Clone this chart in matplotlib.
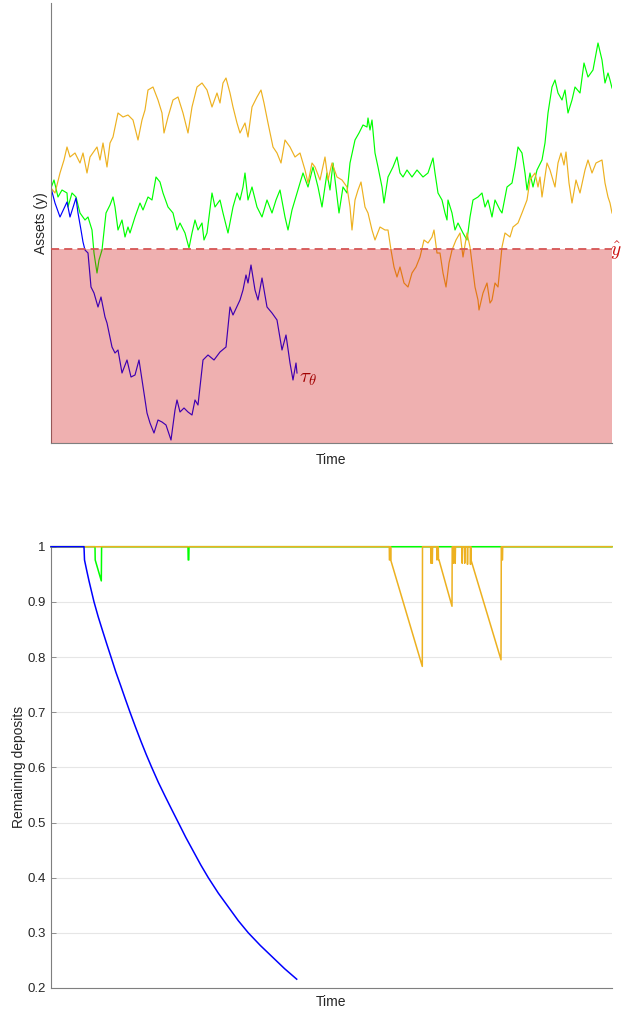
import matplotlib
matplotlib.use('Agg')
import matplotlib.pyplot as plt
import numpy as np

plt.rcParams['font.family'] = ['Liberation Sans', 'DejaVu Sans']
plt.rcParams['mathtext.fontset'] = 'cm'

# colours (MATLAB-like)
c_blue = '#0000ff'
c_green = '#00ff00'
c_orange = '#edb120'

# ---------------- asset paths (time, assets) ----------------
y_hat = 1.94
t_end = 561

blue_path = [(0, 2.55), (4, 2.40), (9, 2.26), (16, 2.41), (19, 2.26), (25, 2.45), (27, 2.30), (30, 2.13),
             (32, 2.01), (34, 1.93), (37, 1.90), (40, 1.56), (43, 1.50), (47, 1.36), (50, 1.46), (54, 1.26),
             (56, 1.20), (61, 0.96), (64, 0.90), (67, 0.93), (71, 0.70), (76, 0.83), (80, 0.66), (84, 0.68),
             (88, 0.83), (93, 0.50), (96, 0.30), (99, 0.20), (103, 0.10), (107, 0.23), (111, 0.21), (115, 0.18),
             (120, 0.03), (124, 0.33), (126, 0.43), (129, 0.31), (133, 0.35), (137, 0.31), (141, 0.28), (144, 0.43),
             (147, 0.38), (152, 0.83), (157, 0.88), (163, 0.83), (169, 0.91), (175, 0.96), (179, 1.36), (182, 1.28),
             (189, 1.43), (192, 1.53), (195, 1.68), (197, 1.60), (200, 1.78), (204, 1.53), (207, 1.43), (211, 1.65),
             (216, 1.36), (221, 1.30), (226, 1.23), (231, 0.93), (235, 1.08), (239, 0.80), (242, 0.63), (245, 0.80),
             (246, 0.70)]

green_path = [(0, 2.55), (3, 2.63), (7, 2.46), (11, 2.53), (16, 2.50), (17, 2.36), (21, 2.50), (25, 2.46),
              (29, 2.30), (34, 2.23), (37, 2.26), (41, 2.13), (43, 1.90), (46, 1.70), (48, 1.83), (51, 1.93),
              (55, 2.30), (59, 2.38), (62, 2.46), (64, 2.36), (67, 2.13), (71, 2.23), (74, 2.06), (77, 2.16),
              (79, 2.10), (84, 2.26), (89, 2.40), (92, 2.33), (97, 2.46), (101, 2.43), (105, 2.66), (109, 2.61),
              (112, 2.50), (117, 2.36), (122, 2.30), (126, 2.13), (129, 2.20), (134, 2.10), (138, 1.95), (141, 2.10),
              (144, 2.23), (147, 2.13), (151, 2.20), (153, 2.03), (156, 2.10), (161, 2.50), (164, 2.36), (169, 2.43),
              (172, 2.30), (177, 2.10), (182, 2.36), (186, 2.50), (189, 2.43), (192, 2.56), (194, 2.70), (197, 2.43),
              (201, 2.56), (206, 2.36), (211, 2.26), (216, 2.43), (221, 2.30), (225, 2.43), (229, 2.53), (234, 2.26),
              (237, 2.13), (241, 2.33), (246, 2.50), (249, 2.60), (252, 2.70), (257, 2.56), (262, 2.76), (267, 2.56),
              (271, 2.36), (276, 2.70), (279, 2.53), (282, 2.80), (288, 2.30), (292, 2.56), (296, 2.50), (299, 2.80),
              (304, 3.03), (308, 3.10), (312, 3.18), (316, 3.16), (317, 3.25), (319, 3.13), (321, 3.23), (324, 2.90),
              (327, 2.76), (331, 2.56), (333, 2.40), (337, 2.66), (342, 2.76), (346, 2.86), (349, 2.70), (352, 2.66),
              (356, 2.73), (361, 2.66), (366, 2.73), (372, 2.66), (377, 2.70), (382, 2.85), (384, 2.70), (387, 2.50),
              (391, 2.43), (394, 2.30), (396, 2.23), (397, 2.43), (401, 2.30), (404, 2.13), (407, 2.20), (412, 2.10),
              (416, 2.03), (419, 2.26), (422, 2.43), (427, 2.46), (431, 2.50), (434, 2.36), (437, 2.43), (441, 2.26),
              (444, 2.43), (449, 2.33), (451, 2.30), (456, 2.56), (461, 2.60), (464, 2.76), (467, 2.96), (471, 2.90),
              (474, 2.70), (476, 2.53), (479, 2.70), (482, 2.56), (486, 2.73), (491, 2.83), (494, 3.00), (497, 3.30),
              (501, 3.56), (504, 3.63), (507, 3.50), (511, 3.43), (514, 3.53), (517, 3.30), (521, 3.43), (524, 3.56),
              (529, 3.50), (533, 3.80), (537, 3.66), (542, 3.73), (547, 4.00), (551, 3.83), (554, 3.60), (557, 3.70),
              (559, 3.63), (561, 3.55)]

orange_path = [(0, 2.55), (4, 2.50), (9, 2.70), (13, 2.83), (16, 2.96), (19, 2.86), (24, 2.90), (29, 2.80),
               (32, 2.90), (36, 2.70), (39, 2.86), (46, 2.96), (49, 2.83), (52, 3.00), (56, 2.76), (59, 3.00),
               (62, 3.06), (67, 3.30), (72, 3.26), (77, 3.28), (82, 3.23), (87, 3.03), (91, 3.23), (94, 3.33),
               (97, 3.53), (102, 3.56), (107, 3.43), (111, 3.30), (113, 3.10), (117, 3.26), (122, 3.43), (127, 3.46),
               (132, 3.30), (137, 3.10), (141, 3.36), (146, 3.56), (151, 3.60), (156, 3.53), (161, 3.36), (166, 3.50),
               (169, 3.40), (172, 3.60), (175, 3.65), (179, 3.50), (182, 3.36), (186, 3.20), (189, 3.10), (194, 3.20),
               (197, 3.06), (201, 3.36), (206, 3.46), (210, 3.53), (213, 3.40), (217, 3.20), (222, 2.96), (226, 2.90),
               (230, 2.80), (234, 3.03), (239, 2.96), (244, 2.86), (249, 2.90), (254, 2.73), (257, 2.60), (261, 2.80),
               (264, 2.76), (269, 2.63), (274, 2.86), (277, 2.63), (281, 2.80), (286, 2.66), (291, 2.63), (296, 2.56),
               (299, 2.36), (301, 2.13), (304, 2.43), (307, 2.53), (310, 2.61), (314, 2.36), (317, 2.30), (321, 2.13),
               (324, 2.03), (329, 2.16), (334, 2.13), (337, 2.13), (340, 1.93), (343, 1.76), (346, 1.66), (349, 1.76),
               (353, 1.60), (357, 1.56), (361, 1.70), (365, 1.76), (369, 1.86), (373, 2.03), (377, 2.00), (381, 2.06),
               (383, 2.13), (386, 1.90), (389, 1.90), (392, 1.70), (395, 1.56), (398, 1.80), (401, 1.93), (405, 2.03),
               (409, 2.10), (412, 1.86), (416, 2.10), (419, 1.96), (424, 1.56), (427, 1.43), (428, 1.33), (432, 1.50),
               (436, 1.60), (439, 1.40), (441, 1.43), (444, 1.60), (447, 1.56), (451, 1.96), (454, 2.10), (459, 2.06),
               (462, 2.16), (467, 2.20), (471, 2.30), (476, 2.43), (479, 2.63), (481, 2.66), (484, 2.70), (487, 2.56),
               (489, 2.66), (491, 2.46), (494, 2.66), (496, 2.80), (499, 2.73), (504, 2.56), (507, 2.80), (510, 2.90),
               (513, 2.78), (515, 2.91), (518, 2.60), (521, 2.40), (525, 2.63), (529, 2.50), (534, 2.73), (537, 2.83),
               (541, 2.70), (545, 2.80), (551, 2.83), (554, 2.60), (557, 2.46), (559, 2.40), (561, 2.30)]

# ---------------- remaining deposits (time, share) ----------------
blue_dep = [(0, 1.0), (33, 1.0), (33.5, 0.976), (35.7, 0.957), (38, 0.938), (40.5, 0.919), (43, 0.90),
            (47.2, 0.873), (51.5, 0.848), (55.7, 0.824), (60, 0.80), (64.8, 0.773), (69.7, 0.748),
            (74.3, 0.724), (79, 0.70), (84.5, 0.673), (90, 0.647), (95.3, 0.623), (100.7, 0.60),
            (107.3, 0.573), (114, 0.548), (120.6, 0.524), (127.3, 0.50), (134.8, 0.473), (142.3, 0.448),
            (149.8, 0.423), (157.3, 0.40), (167.3, 0.372), (177.3, 0.347), (187.3, 0.322), (197.3, 0.30),
            (209.4, 0.277), (221.5, 0.256), (233.6, 0.235), (245.7, 0.216)]

green_dep = [(0, 1.0), (44, 1.0), (44.2, 0.976), (50.3, 0.938), (50.6, 1.0), (137, 1.0), (137.2, 0.976),
             (137.8, 0.976), (138, 1.0), (561, 1.0)]

orange_dep = [(0, 1.0), (338.3, 1.0), (338.4, 0.976), (339.5, 0.976), (339.6, 1.0), (339.7, 0.976),
              (371.3, 0.783), (371.5, 1.0), (379.7, 1.0), (380.0, 0.97), (380.3, 1.0), (381.0, 1.0),
              (381.3, 0.97), (381.6, 1.0), (385.7, 1.0), (385.9, 0.976), (386.2, 1.0), (387.3, 1.0),
              (387.5, 0.976), (388.0, 0.976), (401.0, 0.892), (401.2, 1.0), (402.3, 1.0), (402.5, 0.97),
              (402.8, 1.0), (404.0, 1.0), (404.2, 0.97), (404.5, 1.0), (411.0, 1.0), (411.2, 0.97),
              (411.5, 1.0), (413.5, 1.0), (413.7, 0.97), (414.0, 1.0), (416.3, 1.0), (416.5, 0.968),
              (416.8, 1.0), (419.3, 1.0), (419.5, 0.968), (419.8, 1.0), (420.0, 0.976), (450.0, 0.795),
              (450.3, 1.0), (450.7, 1.0), (450.9, 0.976), (451.5, 0.976), (451.7, 1.0), (561, 1.0)]

dep_ticks = [0.2, 0.3, 0.4, 0.5, 0.6, 0.7, 0.8, 0.9, 1.0]
dep_labels = ['0.2', '0.3', '0.4', '0.5', '0.6', '0.7', '0.8', '0.9', '1']

spine_c = '#7f7f7f'
text_c = '#262626'

fig = plt.figure(figsize=(6.21, 10.14), dpi=100)

##### top panel: asset paths
ax1 = fig.add_axes([51 / 621, 1 - 443 / 1014, 561 / 621, 440 / 1014])
for path, col in [(green_path, c_green), (orange_path, c_orange), (blue_path, c_blue)]:
    tt, aa = zip(*path)
    ax1.plot(tt, aa, color=col, lw=0.85, zorder=2)
ax1.axhspan(0, y_hat, color=(0.8, 0.0, 0.0), alpha=0.31, lw=0, zorder=3)
ax1.axhline(y_hat, color='#d65555', lw=1.3, dashes=(4.5, 2.8), zorder=4)
ax1.text(t_end + 4, y_hat - 0.02, r'$\hat{y}$', color='#cc1010', fontsize=14,
         ha='center', va='center', clip_on=False)
ax1.text(blue_path[-1][0] + 11, blue_path[-1][1] - 0.06, r'$\tau_\theta$', color='#a00000',
         fontsize=15, ha='center', va='center')
ax1.set_xlim(0, t_end)
ax1.set_ylim(0, 4.40)
ax1.set_xticks([])
ax1.set_yticks([])
for s in ['top', 'right']:
    ax1.spines[s].set_visible(False)
for s in ['left', 'bottom']:
    ax1.spines[s].set_color(spine_c)
    ax1.spines[s].set_linewidth(0.8)
ax1.set_xlabel('Time', fontsize=10, color=text_c, labelpad=7)
ax1.set_ylabel('Assets (y)', fontsize=10, color=text_c, labelpad=2)

##### bottom panel: remaining deposits
ax2 = fig.add_axes([51 / 621, 1 - 988 / 1014, 561 / 621, 441.3 / 1014])
for path, col in [(green_dep, c_green), (orange_dep, c_orange), (blue_dep, c_blue)]:
    tt, dd = zip(*path)
    ax2.plot(tt, dd, color=col, lw=1.1, zorder=3, clip_on=False)
ax2.set_xlim(0, t_end)
ax2.set_ylim(0.2, 1.0)
ax2.set_yticks(dep_ticks)
ax2.set_yticklabels(dep_labels)
ax2.set_xticks([])
ax2.grid(axis='y', color='#e6e6e6', lw=0.8, zorder=0)
ax2.tick_params(axis='y', direction='in', length=3.5, width=0.6, color=spine_c,
                labelsize=9.5, labelcolor=text_c, pad=4)
for s in ['top', 'right']:
    ax2.spines[s].set_visible(False)
for s in ['left', 'bottom']:
    ax2.spines[s].set_color(spine_c)
    ax2.spines[s].set_linewidth(0.8)
ax2.set_xlabel('Time', fontsize=10, color=text_c, labelpad=5)
ax2.set_ylabel('Remaining deposits', fontsize=10, color=text_c)
ax2.yaxis.set_label_coords(-0.045, 0.5)

plt.savefig('out.png', dpi=100)
